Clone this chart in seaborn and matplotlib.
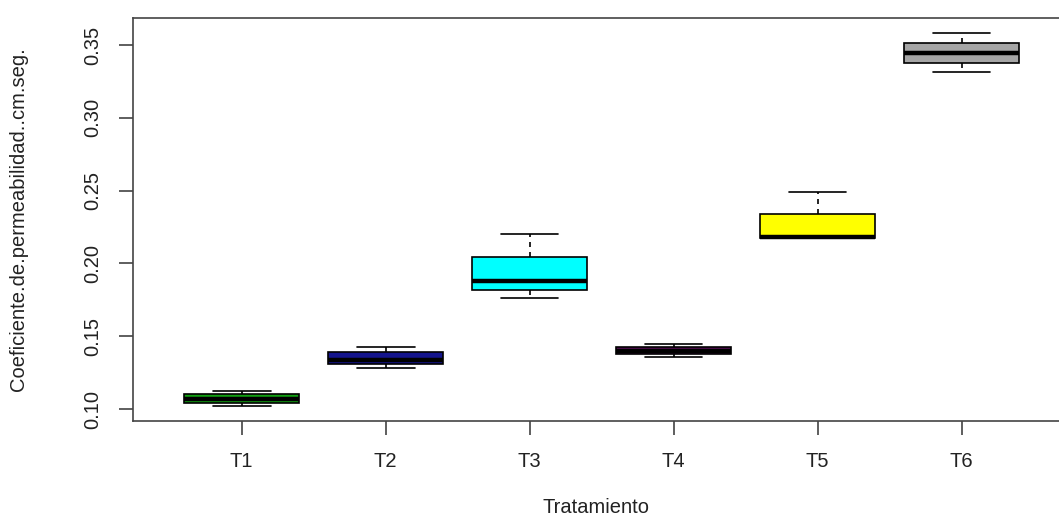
import numpy as np
import pandas as pd
import matplotlib
matplotlib.use("Agg")
import matplotlib.pyplot as plt
import seaborn as sns

# Permeability coefficient (cm/s) measured per treatment, five samples each
tratamientos = ["T1", "T2", "T3", "T4", "T5", "T6"]
t1 = [0.1021, 0.1045, 0.1070, 0.1105, 0.1125]
t2 = [0.1285, 0.1310, 0.1340, 0.1390, 0.1424]
t3 = [0.1763, 0.1818, 0.1880, 0.2044, 0.2205]
t4 = [0.1357, 0.1380, 0.1398, 0.1424, 0.1450]
t5 = [0.2175, 0.2176, 0.2180, 0.2340, 0.2487]
t6 = [0.3317, 0.3378, 0.3445, 0.3512, 0.3580]
colores = ["#12a012", "#14148c", "#00ffff", "#5a0f5a", "#ffff00", "#a6a6a6"]

y_ticks = [0.10, 0.15, 0.20, 0.25, 0.30, 0.35]
y_label = "Coeficiente.de.permeabilidad..cm.seg."
x_label = "Tratamiento"

valores = [t1, t2, t3, t4, t5, t6]
df = pd.DataFrame({
    "Tratamiento": np.repeat(tratamientos, [len(v) for v in valores]),
    "Coeficiente": np.concatenate(valores),
})

sns.set_theme(style="ticks")
plt.rcParams["font.family"] = ["Liberation Sans", "DejaVu Sans"]

fig = plt.figure(figsize=(10.59, 5.2), dpi=100)
ax = fig.add_axes([133 / 1059, 1 - 421 / 520, (1059 - 133) / 1059, (421 - 18) / 520])

sns.boxplot(
    data=df, x="Tratamiento", y="Coeficiente", hue="Tratamiento",
    order=tratamientos, hue_order=tratamientos, palette=colores,
    width=0.8, whis=(0, 100), linecolor="black", linewidth=1.2,
    legend=False, saturation=1, ax=ax,
    whiskerprops={"linestyle": (0, (3, 3))},
    medianprops={"linewidth": 3.2, "color": "black"},
)

ax.set_xlim(-0.755, 5.676)
ax.set_ylim(0.0918, 0.3685)
ax.set_yticks(y_ticks)
ax.set_yticklabels([f"{v:.2f}" for v in y_ticks])

txt = "#222222"
ax.tick_params(axis="both", length=10, width=1.1, color="#333333",
               labelsize=14.5, labelcolor=txt, direction="out")
ax.tick_params(axis="y", pad=12)
ax.tick_params(axis="x", pad=12)
for lab in ax.get_yticklabels():
    lab.set_rotation(90)
    lab.set_va("center")

ax.set_xlabel(x_label, fontsize=14.5, color=txt, labelpad=20)
ax.set_ylabel(y_label, fontsize=14.5, color=txt, labelpad=40)

for side in ["left", "bottom", "top"]:
    ax.spines[side].set_visible(True)
    ax.spines[side].set_color("#444444")
    ax.spines[side].set_linewidth(1.2)
ax.spines["right"].set_visible(False)

fig.savefig("out.png", dpi=100)
